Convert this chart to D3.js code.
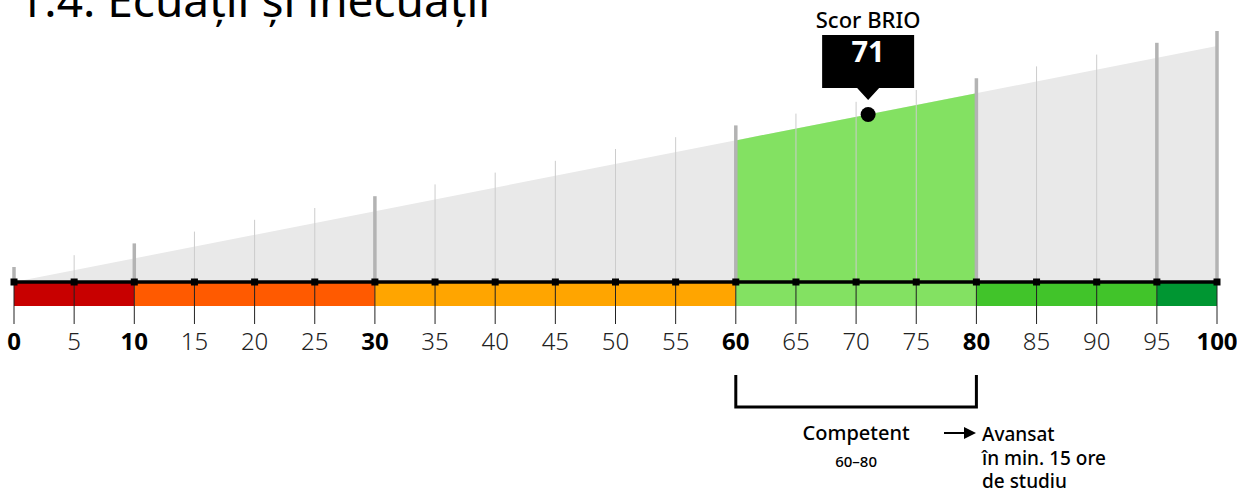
<!DOCTYPE html>
<html>
<head>
<meta charset="utf-8">
<script src="https://cdn.jsdelivr.net/npm/d3@7"></script>
<style>
  body { margin: 0; background: #fff; }
  svg { display: block; font-family: "Noto Sans", "Open Sans", sans-serif; }
</style>
</head>
<body>
<svg width="1237" height="493"></svg>
<script>
var title = "1.4. Ecuații și inecuații";
var score = 71;
var ticks = d3.range(0, 101, 5);
var majorTicks = [0, 10, 30, 60, 80, 95, 100];
var boldLabels = [0, 10, 30, 60, 80, 100];
var bands = [
  { from: 0, to: 10, color: "#c80000" },
  { from: 10, to: 30, color: "#ff5a00" },
  { from: 30, to: 60, color: "#ffa500" },
  { from: 60, to: 80, color: "#83e162" },
  { from: 80, to: 95, color: "#41c42a" },
  { from: 95, to: 100, color: "#009632" }
];
var level = { from: 60, to: 80, name: "Competent", range: "60–80" };
var nextLevel = ["Avansat", "în min. 15 ore", "de studiu"];

var svg = d3.select("svg");
var axisY = 282;

var x = d3.scaleLinear().domain([0, 100]).range([14, 1217]);
var h = d3.scaleLinear().domain([0, 100]).range([axisY, 46]);

// grey wedge
svg.append("path")
  .attr("d", d3.area().x(function(d){ return x(d); }).y0(axisY).y1(function(d){ return h(d); })([0, 100]))
  .attr("fill", "#e9e9e9");

// highlighted level
svg.append("path")
  .attr("d", d3.area().x(function(d){ return x(d); }).y0(axisY).y1(function(d){ return h(d); })([level.from, level.to]))
  .attr("fill", "#83e162");

// vertical grid lines above axis
svg.append("g").selectAll("line")
  .data(ticks)
  .enter().append("line")
  .attr("x1", function(d){ return x(d); })
  .attr("x2", function(d){ return x(d); })
  .attr("y1", axisY)
  .attr("y2", function(d){ return h(d) - 15; })
  .attr("stroke", function(d){ return majorTicks.indexOf(d) > -1 ? "#b3b3b3" : "#cccccc"; })
  .attr("stroke-width", function(d){ return majorTicks.indexOf(d) > -1 ? 3.5 : 1; });

// colour band
svg.append("g").selectAll("rect")
  .data(bands)
  .enter().append("rect")
  .attr("x", function(d){ return x(d.from); })
  .attr("width", function(d){ return x(d.to) - x(d.from); })
  .attr("y", axisY)
  .attr("height", 24)
  .attr("fill", function(d){ return d.color; });

// ticks below axis
svg.append("g").selectAll("line")
  .data(ticks)
  .enter().append("line")
  .attr("x1", function(d){ return x(d); })
  .attr("x2", function(d){ return x(d); })
  .attr("y1", axisY)
  .attr("y2", 324)
  .attr("stroke", "#222")
  .attr("stroke-width", 1);

// axis line
svg.append("line")
  .attr("x1", x(0)).attr("x2", x(100))
  .attr("y1", axisY).attr("y2", axisY)
  .attr("stroke", "#000")
  .attr("stroke-width", 3.5);

svg.append("g").selectAll("rect")
  .data(ticks)
  .enter().append("rect")
  .attr("x", function(d){ return x(d) - 3.5; })
  .attr("y", axisY - 3.5)
  .attr("width", 7)
  .attr("height", 7)
  .attr("fill", "#000");

// tick labels
svg.append("g").selectAll("text")
  .data(ticks)
  .enter().append("text")
  .attr("x", function(d){ return x(d); })
  .attr("y", 350)
  .attr("text-anchor", "middle")
  .attr("font-size", 24)
  .attr("font-weight", function(d){ return boldLabels.indexOf(d) > -1 ? 700 : 300; })
  .attr("fill", function(d){ return boldLabels.indexOf(d) > -1 ? "#000" : "#222"; })
  .text(function(d){ return d; });

// title
svg.append("text")
  .attr("x", 18)
  .attr("y", 17)
  .attr("font-size", 46)
  .attr("fill", "#000")
  .text(title);

// score callout
var sx = x(score), sy = h(score);
svg.append("circle")
  .attr("cx", sx).attr("cy", sy)
  .attr("r", 7.5)
  .attr("fill", "#000");

svg.append("path")
  .attr("d", "M" + (sx - 46) + ",35H" + (sx + 46) + "V88H" + (sx + 11) + "L" + sx + ",100L" + (sx - 11) + ",88H" + (sx - 46) + "Z")
  .attr("fill", "#000");

svg.append("text")
  .attr("x", sx).attr("y", 62)
  .attr("text-anchor", "middle")
  .attr("font-size", 29)
  .attr("font-weight", 700)
  .attr("fill", "#fff")
  .text(score);

svg.append("text")
  .attr("x", sx).attr("y", 28)
  .attr("text-anchor", "middle")
  .attr("font-size", 22)
  .attr("font-weight", 500)
  .attr("fill", "#000")
  .text("Scor BRIO");

// level bracket
svg.append("path")
  .attr("d", "M" + x(level.from) + ",375V407H" + x(level.to) + "V375")
  .attr("fill", "none")
  .attr("stroke", "#000")
  .attr("stroke-width", 3);

var mid = (x(level.from) + x(level.to)) / 2;
svg.append("text")
  .attr("x", mid).attr("y", 440)
  .attr("text-anchor", "middle")
  .attr("font-size", 20)
  .attr("font-weight", 500)
  .text(level.name);

svg.append("text")
  .attr("x", mid).attr("y", 467)
  .attr("text-anchor", "middle")
  .attr("font-size", 15)
  .attr("font-weight", 500)
  .text(level.range);

// arrow to next level
svg.append("line")
  .attr("x1", 944).attr("x2", 966)
  .attr("y1", 433).attr("y2", 433)
  .attr("stroke", "#000").attr("stroke-width", 2);
svg.append("path")
  .attr("d", "M964,427L976,433L964,439Z")
  .attr("fill", "#000");

svg.append("text")
  .attr("font-size", 19)
  .attr("font-weight", 500)
  .selectAll("tspan")
  .data(nextLevel)
  .enter().append("tspan")
  .attr("x", 982)
  .attr("y", function(d, i){ return 441 + i * 23.5; })
  .text(function(d){ return d; });
</script>
</body>
</html>
